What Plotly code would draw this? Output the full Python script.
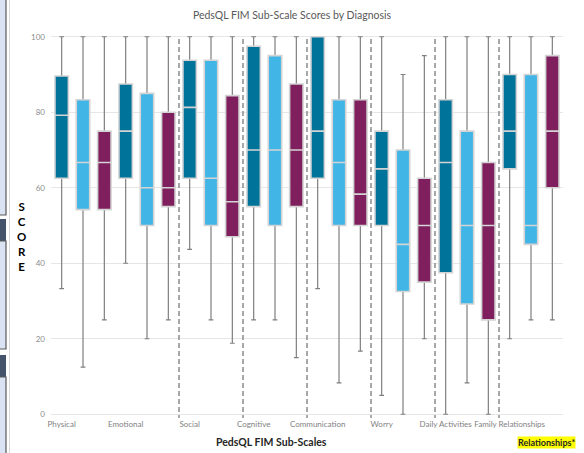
import plotly.graph_objects as go

# ---------------- data ----------------
categories = ["Physical", "Emotional", "Social", "Cognitive", "Communication",
              "Worry", "Daily Activities", "Family Relationships"]
series_names = ["Diagnosis 1", "Diagnosis 2", "Diagnosis 3"]

dark_min = [33.3, 40.0, 43.7, 25.0, 33.3, 5.0, 0.0, 20.0]
dark_q1 = [62.5, 62.5, 62.5, 55.0, 62.5, 50.0, 37.5, 65.0]
dark_med = [79.2, 75.0, 81.3, 70.0, 75.0, 65.0, 66.7, 75.0]
dark_q3 = [89.6, 87.5, 93.8, 97.5, 100.0, 75.0, 83.3, 90.0]
dark_max = [100, 100, 100, 100, 100, 100, 100, 100]

light_min = [12.5, 20.0, 25.0, 25.0, 8.3, 0.0, 8.3, 25.0]
light_q1 = [54.2, 50.0, 50.0, 50.0, 50.0, 32.5, 29.2, 45.0]
light_med = [66.7, 60.0, 62.5, 70.0, 66.7, 45.0, 50.0, 50.0]
light_q3 = [83.3, 85.0, 93.8, 95.0, 83.3, 70.0, 75.0, 90.0]
light_max = [100, 100, 100, 100, 100, 90, 100, 100]

purple_min = [25.0, 25.0, 18.8, 15.0, 16.7, 20.0, 0.0, 25.0]
purple_q1 = [54.2, 55.0, 47.0, 55.0, 50.0, 35.0, 25.0, 60.0]
purple_med = [66.7, 60.0, 56.3, 70.0, 58.3, 50.0, 50.0, 75.0]
purple_q3 = [75.0, 80.0, 84.4, 87.5, 83.3, 62.5, 66.7, 95.0]
purple_max = [100, 100, 100, 100, 100, 95, 100, 100]

y_ticks = [0, 20, 40, 60, 80, 100]
divider_groups = [2, 3, 4, 5, 6, 7]   # dashed separators before these groups

# ---------------- styling ----------------
colors = ["#00739A", "#41B6E6", "#7F1F5D"]
FONT = "Lato, 'Open Sans', sans-serif"
W, H = 584, 453
ML, MR, MT, MB = 51, 21, 33, 35

stats = [
    (dark_min, dark_q1, dark_med, dark_q3, dark_max),
    (light_min, light_q1, light_med, light_q3, light_max),
    (purple_min, purple_q1, purple_med, purple_q3, purple_max),
]

fig = go.Figure()
n = len(categories)

# whiskers (drawn first, covered by the boxes)
for j, (mn, q1, md, q3, mx) in enumerate(stats):
    xs = [3 * i + j for i in range(n)]
    fig.add_trace(go.Box(
        x=xs, q1=md, median=md, q3=md, lowerfence=mn, upperfence=mx,
        width=0.5, whiskerwidth=0.45, boxpoints=False,
        line=dict(color="#7F7F7F", width=1.2), fillcolor="rgba(0,0,0,0)",
        showlegend=False, hoverinfo="skip",
    ))

# boxes
for j, (mn, q1, md, q3, mx) in enumerate(stats):
    xs = [3 * i + j for i in range(n)]
    fig.add_trace(go.Box(
        x=xs, q1=q1, median=md, q3=q3, lowerfence=q1, upperfence=q3,
        width=0.63, whiskerwidth=0, boxpoints=False,
        line=dict(color="#D4D4D4", width=1.6), fillcolor=colors[j],
        name=series_names[j], showlegend=False,
    ))

shapes = []
for g in divider_groups:
    shapes.append(dict(type="line", xref="x", yref="y", x0=3 * g - 0.5, x1=3 * g - 0.5,
                       y0=-1.5, y1=100, line=dict(color="#8C8C8C", width=1.5, dash="5px,3px"),
                       layer="above"))

# left-edge window fragments of the original screenshot
pw, ph = W - ML - MR, H - MT - MB
def px(xp):
    return (xp - ML) / pw
def py(yp):
    return 1 - (yp - MT) / ph

def rect(x0, y0, x1, y1, fill, line=None):
    shapes.append(dict(type="rect", xref="paper", yref="paper",
                       x0=px(x0), x1=px(x1), y0=py(y1), y1=py(y0),
                       fillcolor=fill, line=dict(width=0) if line is None else line,
                       layer="above"))

rect(-1, -1, 6, 215, "#DAE3F3", dict(color="#595959", width=1.2))
rect(-1, 219, 6, 241, "#44546A")
rect(-1, 241, 6, 349, "#DAE3F3", dict(color="#595959", width=1.2))
rect(-1, 355, 6, 377, "#44546A")
rect(-1, 377, 6, 460, "#DAE3F3", dict(color="#595959", width=1.2))
shapes.append(dict(type="line", xref="paper", yref="paper", x0=px(9.5), x1=px(9.5),
                   y0=py(453), y1=py(0), line=dict(color="#D9D9D9", width=1)))

annotations = [
    dict(text="<b>S<br>C<br>O<br>R<br>E</b>", xref="paper", yref="paper",
         x=px(21), y=py(237), xanchor="center", yanchor="middle", showarrow=False,
         font=dict(family=FONT, size=11.5, color="#000000")),
    dict(text="<b>PedsQL FIM Sub-Scales</b>", xref="paper", yref="paper",
         x=px(271), y=py(442), xanchor="center", yanchor="middle", showarrow=False,
         font=dict(family=FONT, size=10.5, color="#262626")),
    dict(text="<b>Relationships*</b>", xref="paper", yref="paper",
         x=px(546), y=py(443), xanchor="center", yanchor="middle", showarrow=False,
         bgcolor="#FFFF00", borderpad=0,
         font=dict(family=FONT, size=9, color="#262626")),
]

fig.update_layout(
    width=W, height=H,
    margin=dict(l=ML, r=MR, t=MT, b=MB, autoexpand=False),
    paper_bgcolor="white", plot_bgcolor="white",
    boxmode="overlay",
    title=dict(text="PedsQL FIM Sub-Scale Scores by Diagnosis", x=0.5, xref="container",
               y=1 - 15 / H, yref="container", xanchor="center", yanchor="middle",
               font=dict(family=FONT, size=10.5, color="#595959")),
    xaxis=dict(range=[-0.5, 3 * n - 0.5], tickvals=[3 * i for i in range(n)],
               ticktext=categories, showgrid=False, zeroline=False, showline=False,
               ticks="", tickangle=0, automargin=False,
               tickfont=dict(family=FONT, size=8, color="#7F7F7F")),
    yaxis=dict(range=[-1, 101], tickvals=y_ticks, showgrid=True, gridcolor="#E6E6E6",
               gridwidth=1, zeroline=False, showline=False, ticks="", automargin=False,
               ticklabelstandoff=5,
               tickfont=dict(family=FONT, size=8, color="#8C8C8C")),
    shapes=shapes, annotations=annotations, showlegend=False,
)

fig.write_html("out.html", config={"displayModeBar": False},
               post_script="document.body.style.margin='0';document.body.style.overflow='hidden';")
